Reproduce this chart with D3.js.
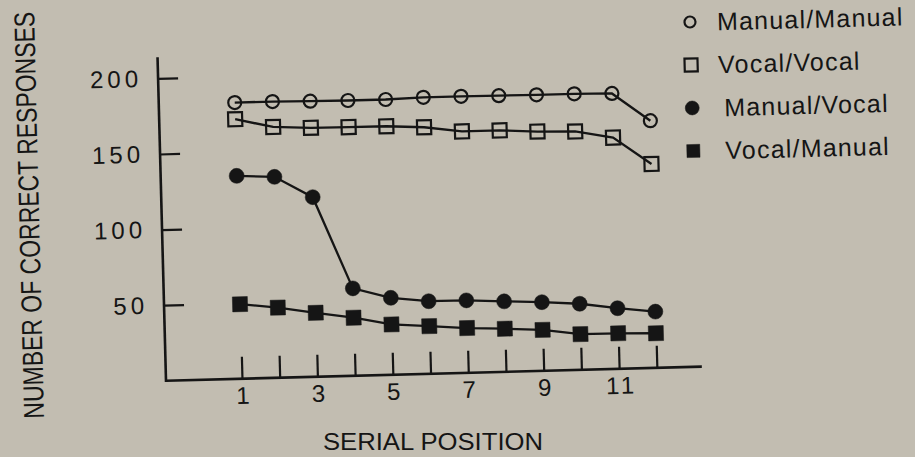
<!DOCTYPE html>
<html>
<head>
<meta charset="utf-8">
<script src="https://cdn.jsdelivr.net/npm/d3@7"></script>
<style>
  body { margin: 0; background: #c2bdb1; }
  svg { display: block; }
  text { font-family: "Liberation Sans", Arial, Helvetica, sans-serif; fill: #151515; }
</style>
</head>
<body>
<svg id="chart" width="915" height="457"></svg>
<script>
var positions = [1, 2, 3, 4, 5, 6, 7, 8, 9, 10, 11, 12];
var xLabels = [1, 3, 5, 7, 9, 11];
var yTicks = [50, 100, 150, 200];

var manualManual = [182.7, 182.7, 182.3, 182.1, 182.1, 182.9, 182.9, 182.7, 182.6, 182.6, 182.2, 163.5];
var vocalVocal = [171.7, 165.9, 164.7, 164.5, 164.4, 163.1, 159.7, 159.7, 158.3, 157.7, 153.0, 134.9];
var manualVocal = [134.2, 132.9, 118.8, 57.8, 50.9, 48.0, 47.9, 46.6, 45.4, 43.7, 40.1, 37.2];
var vocalManual = [49.3, 46.4, 42.3, 38.4, 33.3, 31.5, 29.6, 28.5, 27.1, 23.6, 23.5, 22.9];

var seriesNames = ["Manual/Manual", "Vocal/Vocal", "Manual/Vocal", "Vocal/Manual"];
var seriesValues = [manualManual, vocalVocal, manualVocal, vocalManual];

var ink = "#151515";

var svg = d3.select("#chart");
svg.append("rect").attr("width", 915).attr("height", 457).attr("fill", "#c2bdb1");

// the scan is tilted a little, so the plot is drawn in a slightly rotated frame
var plot = svg.append("g").attr("transform", "translate(166,380.7) rotate(-1.5)");

var x = d3.scaleLinear().domain([1, 12]).range([76, 491]);
var y = d3.scaleLinear().domain([0, 200]).range([0, -302.4]);

// axis lines
plot.append("line")
  .attr("x1", 0).attr("y1", 0).attr("x2", 536).attr("y2", 0)
  .attr("stroke", ink).attr("stroke-width", 2.6);
plot.append("line")
  .attr("x1", 0).attr("y1", 1.3).attr("x2", 0).attr("y2", y(214))
  .attr("stroke", ink).attr("stroke-width", 2.6);

var xAxis = d3.axisBottom(x)
  .tickValues(positions)
  .tickSizeInner(-22)
  .tickSizeOuter(0)
  .tickPadding(8)
  .tickFormat(function (d) { return xLabels.indexOf(d) >= 0 ? d : ""; });

var gx = plot.append("g").call(xAxis);
gx.select(".domain").remove();
gx.selectAll(".tick line").attr("stroke", ink).attr("stroke-width", 2.2);
gx.selectAll(".tick text")
  .attr("font-size", 24)
  .attr("font-family", null)
  .style("letter-spacing", "3px")
  .attr("dx", "1.5px");

var yAxis = d3.axisLeft(y)
  .tickValues(yTicks)
  .tickSizeInner(-20)
  .tickSizeOuter(0)
  .tickPadding(16);

var gy = plot.append("g").call(yAxis);
gy.select(".domain").remove();
gy.selectAll(".tick line").attr("stroke", ink).attr("stroke-width", 2.2);
gy.selectAll(".tick text")
  .attr("font-size", 24)
  .attr("font-family", null)
  .style("letter-spacing", "4px");

// series
var line = d3.line()
  .x(function (d, i) { return x(positions[i]); })
  .y(function (d) { return y(d); });

var shapes = [
  { type: "circle", filled: false, size: 6.5 },
  { type: "square", filled: false, size: 14 },
  { type: "circle", filled: true, size: 7.5 },
  { type: "square", filled: true, size: 15 }
];

function drawMarker(g, shape) {
  if (shape.type == "circle") {
    g.append("circle").attr("r", shape.size);
  } else {
    g.append("rect")
      .attr("x", -shape.size / 2).attr("y", -shape.size / 2)
      .attr("width", shape.size).attr("height", shape.size);
  }
  g.selectAll("circle, rect")
    .attr("fill", shape.filled ? ink : "none")
    .attr("stroke", ink)
    .attr("stroke-width", shape.filled ? 0.5 : 2.2);
}

for (var s = 0; s < seriesValues.length; s++) {
  plot.append("path")
    .datum(seriesValues[s])
    .attr("d", line)
    .attr("fill", "none")
    .attr("stroke", ink)
    .attr("stroke-width", 2.3);

  var marks = plot.append("g")
    .selectAll("g")
    .data(seriesValues[s])
    .enter()
    .append("g")
    .attr("transform", function (d, i) {
      return "translate(" + x(positions[i]) + "," + y(d) + ")";
    });
  marks.each(function () { drawMarker(d3.select(this), shapes[s]); });
}

// axis titles
svg.append("text")
  .attr("x", 433).attr("y", 450)
  .attr("text-anchor", "middle")
  .attr("font-size", 24)
  .attr("textLength", 220)
  .attr("lengthAdjust", "spacingAndGlyphs")
  .text("SERIAL POSITION");

// narrow, tall lettering: stretch the glyph height instead of squeezing the width
svg.append("text")
  .attr("transform", "translate(39,215) rotate(-91.4) scale(1,1.25)")
  .attr("text-anchor", "middle")
  .attr("font-size", 23)
  .text("NUMBER OF CORRECT RESPONSES");

// legend
var legendShapes = [
  { type: "circle", filled: false, size: 5.5 },
  { type: "square", filled: false, size: 13 },
  { type: "circle", filled: true, size: 7 },
  { type: "square", filled: true, size: 13 }
];

var legend = svg.append("g").attr("transform", "translate(690,22) rotate(-1.5)");
var rows = legend.selectAll("g")
  .data(seriesNames)
  .enter()
  .append("g")
  .attr("transform", function (d, i) { return "translate(0," + i * 43 + ")"; });

rows.each(function (d, i) { drawMarker(d3.select(this), legendShapes[i]); });

rows.append("text")
  .attr("x", function (d, i) { return i < 2 ? 27 : 32; })
  .attr("y", 9)
  .attr("font-size", 25)
  .style("letter-spacing", "1.2px")
  .text(function (d) { return d; });
</script>
</body>
</html>
